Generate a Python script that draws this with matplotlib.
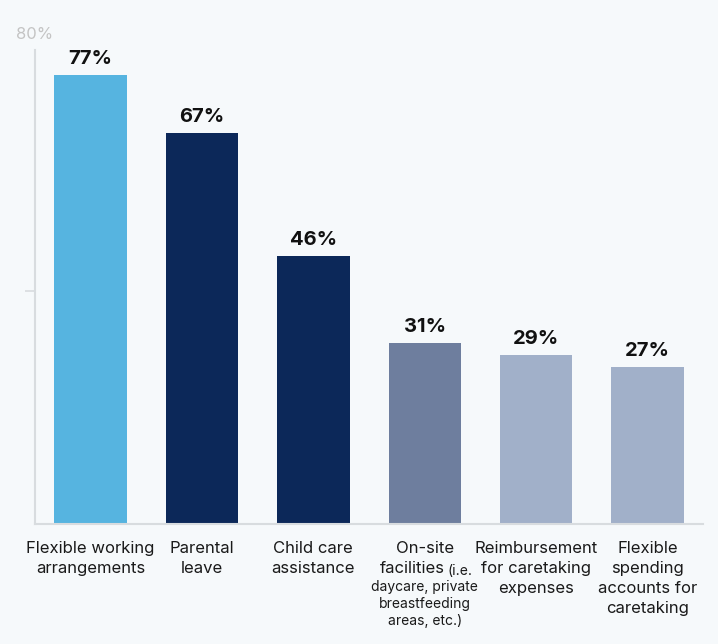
import matplotlib.pyplot as plt

# === DATA ===
categories = [
    "Flexible working\narrangements",
    "Parental\nleave",
    "Child care\nassistance",
    "On-site",
    "Reimbursement\nfor caretaking\nexpenses",
    "Flexible\nspending\naccounts for\ncaretaking",
]
values = [77, 67, 46, 31, 29, 27]
bar_colors = ["#56B4E0", "#0C2859", "#0C2859", "#6E7E9E", "#A1B0C9", "#A1B0C9"]

bg = "#F6F9FB"
plt.rcParams["font.family"] = ["Inter", "DejaVu Sans"]

fig = plt.figure(figsize=(7.18, 6.44), dpi=100, facecolor=bg)
ax = fig.add_axes([0.0487, 0.1863, 0.9305, 0.7361])
ax.set_facecolor(bg)

x = list(range(len(values)))
bars = ax.bar(x, values, width=0.65, color=bar_colors, zorder=2)

ax.set_xlim(-0.5, 5.5)
ax.set_ylim(0, 81.3)

# spines
for s in ["top", "right"]:
    ax.spines[s].set_visible(False)
for s in ["left", "bottom"]:
    ax.spines[s].set_color("#D8DCDF")
    ax.spines[s].set_linewidth(1.5)

ax.set_xticks([])
ax.set_yticks([40])
ax.set_yticklabels([""])
ax.tick_params(axis="y", length=7, width=1.2, color="#D8DCDF")

ax.annotate("80%", (0, 1.0), xycoords="axes fraction", xytext=(0, 6),
            textcoords="offset points", ha="center", va="bottom",
            fontsize=12, color="#C4C4C4")

# value labels
for xi, v in zip(x, values):
    ax.annotate(f"{v}%", (xi, v), xytext=(0, 5), textcoords="offset points",
                ha="center", va="bottom", fontsize=14.5, fontweight="bold",
                color="#111111")

# category labels
lbl_kw = dict(xycoords=("data", "axes fraction"), textcoords="offset points",
              fontsize=12, color="#1A1A1A", linespacing=1.42)
for xi, lab in enumerate(categories):
    if xi == 3:
        continue
    ax.annotate(lab, (xi, 0), xytext=(0, -12), ha="center", va="top", **lbl_kw)

# mixed-size label for on-site facilities
ax.annotate("On-site", (3, 0), xytext=(0, -12), ha="center", va="top", **lbl_kw)
ax.annotate("facilities", (3.19, 0), xytext=(-1, -26.5), ha="right", va="top", **lbl_kw)
ax.annotate("(i.e.", (3.19, 0), xytext=(1, -28.5), ha="left", va="top",
            xycoords=("data", "axes fraction"), textcoords="offset points",
            fontsize=10, color="#1A1A1A")
ax.annotate("daycare, private\nbreastfeeding\nareas, etc.)", (3, 0), xytext=(0, -40),
            ha="center", va="top", xycoords=("data", "axes fraction"),
            textcoords="offset points", fontsize=10, color="#1A1A1A",
            linespacing=1.3)

fig.savefig("out.png", dpi=100, facecolor=bg)
